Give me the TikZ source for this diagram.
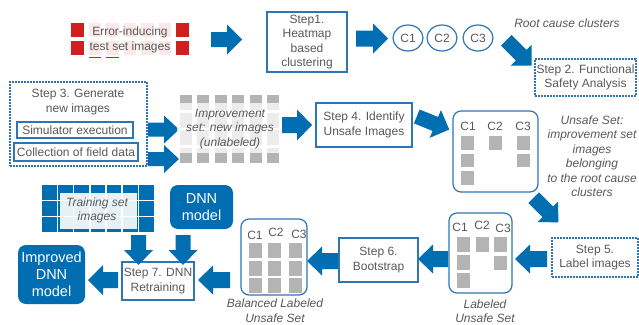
\documentclass[tikz,border=0pt]{standalone}
\usepackage{fontspec}
\setmainfont{Liberation Sans}
\usetikzlibrary{shapes.geometric}
\definecolor{ablue}{RGB}{0,110,176}
\definecolor{bblue}{RGB}{46,117,182}
\definecolor{txt}{RGB}{89,89,89}
\definecolor{sq}{RGB}{180,180,180}
\definecolor{errred}{RGB}{208,32,30}
% block arrow: name, centre, angle, length, shaft width, head width, head length
\newcommand\blockarrow[7]{%
  \coordinate (#1) at #2;
  \fill[ablue, shift={#2}, rotate=#3]
    (-#4/2,-#5/2) -- (#4/2-#7,-#5/2) -- (#4/2-#7,-#6/2) -- (#4/2,0)
    -- (#4/2-#7,#6/2) -- (#4/2-#7,#5/2) -- (-#4/2,#5/2) -- cycle;}
\begin{document}
\begin{tikzpicture}[x=1pt,y=-1pt,
  every node/.style={font=\fontsize{12}{14.5}\selectfont, text=txt},
  stepbox/.style={draw=bblue, line width=1.2pt, align=center, inner sep=0pt},
  dashbox/.style={stepbox, dash pattern=on 1.6pt off 1.4pt},
  clbox/.style={draw=bblue, line width=1.2pt, rounded corners=8pt, inner sep=0pt},
  filledbox/.style={fill=ablue, rounded corners=8pt, text=white, align=center, inner sep=0pt, font=\fontsize{14.5}{17}\selectfont},
  lbl/.style={font=\fontsize{12}{14.5}\selectfont\itshape, align=center, inner sep=0pt},
  cl/.style={inner sep=0pt},
  circ/.style={ellipse, draw=bblue, line width=1.2pt, minimum width=30pt, minimum height=26pt, inner sep=0pt},
]
\fill[white] (0,0) rectangle (639,324);
\useasboundingbox (0,0) rectangle (639,324);

% ---- error-inducing images grid
\foreach \i in {0,...,6}{
  \foreach \j in {0,1}{
    \fill[errred] (71+\i*17.5,23+\j*18) rectangle ++(12.5,14);
  }
}
\fill[errred] (88.5,56.5) rectangle ++(12.5,1.6);
\fill[errred] (106,56.5) rectangle ++(12.5,1.6);
\fill[white, opacity=0.9] (86,20) rectangle (172,56.5);
\node[align=center, inner sep=0pt] (err) at (130,40) {Error-inducing\\test set images};

% ---- step 1
\node[stepbox, minimum width=80pt, minimum height=60pt] (s1) at (307,42) {Step1.\\Heatmap\\based\\clustering};
\blockarrow{a1}{(226.5,39.5)}{0}{31}{15}{30}{15}
\blockarrow{a2}{(372,38.5)}{0}{32}{16}{30}{15}
\node[circ] (c1) at (408,38) {C1};
\node[circ] (c2) at (442,38) {C2};
\node[circ] (c3) at (478,38) {C3};
\node[lbl] (root) at (567,23) {Root cause clusters};
\blockarrow{a3}{(519,53)}{-45}{36}{15}{30}{15}
\node[dashbox, minimum width=101pt, minimum height=37pt] (s2) at (585.5,77.5) {Step 2. Functional\\Safety Analysis};

% ---- step 3
\node[dashbox, minimum width=137pt, minimum height=84pt] (s3) at (78.5,124) {};
\node[align=center, inner sep=0pt] (s3t) at (78,102) {Step 3. Generate\\new images};
\node[stepbox, minimum width=116pt, minimum height=16pt] (sim) at (75,130) {Simulator execution};
\node[stepbox, minimum width=124pt, minimum height=18pt] (field) at (76,152) {Collection of field data};
\blockarrow{a4}{(163.5,129.5)}{0}{31}{14}{28}{15}
\blockarrow{a5}{(163.5,159)}{0}{31}{14}{28}{15}

% ---- improvement set grid
\foreach \i in {0,...,5}{
  \foreach \j in {0,...,3}{
    \fill[sq] (180+\i*17.4,95+\j*17.5) rectangle ++(12,15);
  }
}
\fill[white, opacity=0.75] (177,103) rectangle (282,153);
\node[lbl] (imp) at (230,129) {Improvement\\set: new images\\(unlabeled)};
\blockarrow{a6}{(297,125)}{0}{30}{16}{31}{15}

% ---- step 4
\node[stepbox, minimum width=96pt, minimum height=44pt] (s4) at (364,125) {Step 4. Identify\\Unsafe Images};
\blockarrow{a7}{(433,123)}{-22}{35}{15}{30}{15}

% ---- unsafe set
\node[clbox, minimum width=85pt, minimum height=81pt] (unsafe) at (495.5,151.5) {};
\node[cl] (u1) at (468,126) {C1};
\node[cl] (u2) at (495,126) {C2};
\node[cl] (u3) at (523,126) {C3};
\foreach \y in {136,153.5,171} \fill[sq] (461,\y) rectangle ++(13,13.5);
\fill[sq] (489,136) rectangle ++(13,13.5);
\foreach \y in {136,153.5} \fill[sq] (517,\y) rectangle ++(13,13.5);
\node[lbl] (unsafet) at (592,156) {Unsafe Set:\\improvement set\\images\\belonging\\to the root cause\\clusters};
\blockarrow{a8}{(546,210)}{-45}{35}{15}{29}{15}

% ---- step 5
\node[dashbox, minimum width=86pt, minimum height=39pt] (s5) at (595,257.5) {Step 5.\\Label images};
\blockarrow{a9}{(531,259)}{180}{32}{16}{29}{15}

% ---- labeled unsafe set
\node[clbox, minimum width=63pt, minimum height=80pt] (lab) at (480.5,253) {};
\node[cl] (l1) at (460,227) {C1};
\node[cl] (l2) at (482,225) {C2};
\node[cl] (l3) at (503,228) {C3};
\foreach \y in {237,255,273} \fill[sq] (457,\y) rectangle ++(13,14.5);
\fill[sq] (476,237) rectangle ++(13,14.5);
\foreach \y in {237,255.5} \fill[sq] (494,\y) rectangle ++(13,14.5);
\node[lbl] (labt) at (485,311) {Labeled\\Unsafe Set};
\blockarrow{a10}{(433,259)}{180}{30}{16}{29}{15}

% ---- step 6
\node[stepbox, minimum width=79pt, minimum height=44pt] (s6) at (378.5,260) {Step 6.\\Bootstrap};
\blockarrow{a11}{(322.5,261)}{180}{31}{16}{29}{15}

% ---- balanced set
\node[clbox, minimum width=66pt, minimum height=76pt] (bal) at (274,257) {};
\node[cl] (b1) at (255,235) {C1};
\node[cl] (b2) at (276,232) {C2};
\node[cl] (b3) at (299,234) {C3};
\foreach \x in {249,268,289}{
  \foreach \y in {243,261,278} \fill[sq] (\x,\y) rectangle ++(13,14.5);
}
\node[lbl] (balt) at (275,310.5) {Balanced Labeled\\Unsafe Set};
\blockarrow{a12}{(214,280)}{180}{32}{16}{29}{15}

% ---- step 7
\node[stepbox, minimum width=72pt, minimum height=38pt] (s7) at (158,281) {Step 7. DNN\\Retraining};
\blockarrow{a13}{(103,280)}{180}{30}{16}{30}{15}
\node[filledbox, minimum width=67pt, minimum height=59pt] (imp2) at (51.5,274.5) {Improved\\DNN\\model};

% ---- training set grid
\foreach \i in {0,...,6}{
  \foreach \j in {0,1,2}{
    \fill[ablue] (42+\i*16.2,185+\j*16.1) rectangle ++(14.6,14.6);
  }
}
\fill[white, opacity=0.9] (60,193) rectangle (137,229);
\node[lbl] (train) at (97,210.5) {Training set\\images};
\node[filledbox, minimum width=63pt, minimum height=44pt] (dnn) at (201.5,207) {DNN\\model};
\blockarrow{a14}{(138.5,250)}{-90}{30}{15}{29}{15}
\blockarrow{a15}{(183,250)}{-90}{30}{15}{29}{15}
\end{tikzpicture}
\end{document}
